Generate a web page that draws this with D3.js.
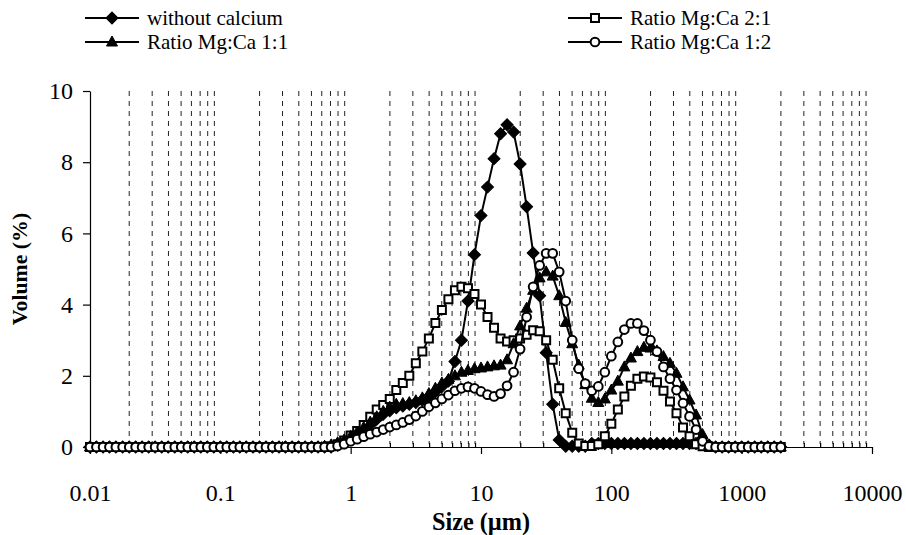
<!DOCTYPE html>
<html>
<head>
<meta charset="utf-8">
<script src="https://cdn.jsdelivr.net/npm/d3@7"></script>
<style>
  body { margin: 0; background: #fff; }
  svg { display: block; }
</style>
</head>
<body>
<svg id="chart"></svg>
<script>
// Size classes (µm), log spaced
const sizes = [
  0.0100, 0.0112, 0.0126, 0.0141, 0.0158, 0.0178, 0.0200, 0.0224, 0.0251, 0.0282,
  0.0316, 0.0355, 0.0398, 0.0447, 0.0501, 0.0562, 0.0631, 0.0708, 0.0794, 0.0891,
  0.100, 0.112, 0.126, 0.141, 0.158, 0.178, 0.200, 0.224, 0.251, 0.282,
  0.316, 0.355, 0.398, 0.447, 0.501, 0.562, 0.631, 0.708, 0.794, 0.891,
  1.000, 1.122, 1.259, 1.413, 1.585, 1.778, 1.995, 2.239, 2.512, 2.818,
  3.162, 3.548, 3.981, 4.467, 5.012, 5.623, 6.310, 7.079, 7.943, 8.913,
  10.00, 11.22, 12.59, 14.13, 15.85, 17.78, 19.95, 22.39, 25.12, 28.18,
  31.62, 35.48, 39.81, 44.67, 50.12, 56.23, 63.10, 70.79, 79.43, 89.13,
  100.0, 112.2, 125.9, 141.3, 158.5, 177.8, 199.5, 223.9, 251.2, 281.8,
  316.2, 354.8, 398.1, 446.7, 501.2, 562.3, 631.0, 707.9, 794.3, 891.3,
  1000, 1122, 1259, 1413, 1585, 1778, 1995
];

// Volume (%) for each series, one value per size class
const withoutCalcium = [
  0, 0, 0, 0, 0, 0, 0, 0, 0, 0,
  0, 0, 0, 0, 0, 0, 0, 0, 0, 0,
  0, 0, 0, 0, 0, 0, 0, 0, 0, 0,
  0, 0, 0, 0, 0, 0, 0, 0, 0.05, 0.12,
  0.22, 0.35, 0.48, 0.62, 0.78, 0.92, 1.02, 1.1, 1.15, 1.2,
  1.25, 1.32, 1.42, 1.55, 1.7, 1.85, 2.4, 3.0, 4.1, 5.4,
  6.5, 7.3, 8.1, 8.8, 9.05, 8.85, 7.95, 6.75, 5.45, 4.25,
  2.65, 1.2, 0.2, 0.02, 0.02, 0.02, 0.02, 0.1, 0.1, 0.1,
  0.1, 0.1, 0.1, 0.1, 0.1, 0.1, 0.1, 0.1, 0.1, 0.1,
  0.1, 0.1, 0.1, 0.1, 0.1, 0.05, 0, 0, 0, 0,
  0, 0, 0, 0, 0, 0, 0
];

const ratio21 = [
  0, 0, 0, 0, 0, 0, 0, 0, 0, 0,
  0, 0, 0, 0, 0, 0, 0, 0, 0, 0,
  0, 0, 0, 0, 0, 0, 0, 0, 0, 0,
  0, 0, 0, 0, 0, 0, 0, 0.02, 0.08, 0.18,
  0.32, 0.45, 0.62, 0.85, 1.05, 1.18, 1.35, 1.6, 1.8, 2.0,
  2.35, 2.68, 3.05, 3.48, 3.85, 4.15, 4.4, 4.5, 4.46, 4.3,
  4.0, 3.65, 3.35, 3.05, 2.96, 3.0, 3.05, 3.15, 3.28, 3.25,
  3.0, 2.45, 1.65, 0.95, 0.4, 0.1, 0.03, 0.03, 0.08, 0.3,
  0.65, 1.05, 1.42, 1.72, 1.92, 1.98, 1.95, 1.82, 1.58, 1.28,
  0.95, 0.55, 0.3, 0.08, 0.02, 0, 0, 0, 0, 0,
  0, 0, 0, 0, 0, 0, 0
];

const ratio11 = [
  0, 0, 0, 0, 0, 0, 0, 0, 0, 0,
  0, 0, 0, 0, 0, 0, 0, 0, 0, 0,
  0, 0, 0, 0, 0, 0, 0, 0, 0, 0,
  0, 0, 0, 0, 0, 0, 0.02, 0.06, 0.12, 0.2,
  0.3, 0.42, 0.55, 0.7, 0.85, 1.0, 1.12, 1.2, 1.22, 1.25,
  1.3, 1.38, 1.5, 1.65, 1.8, 1.9, 2.0, 2.1, 2.15, 2.2,
  2.22, 2.25, 2.28, 2.3, 2.45, 2.9, 3.4, 3.9, 4.4, 4.75,
  4.92, 4.8, 4.25, 3.5, 2.9, 2.3, 1.75, 1.37, 1.25, 1.35,
  1.6, 1.85, 2.25, 2.5, 2.68, 2.8, 2.78, 2.7, 2.54, 2.35,
  2.07, 1.69, 1.32, 0.9, 0.35, 0.05, 0, 0, 0, 0,
  0, 0, 0, 0, 0, 0, 0
];

const ratio12 = [
  0, 0, 0, 0, 0, 0, 0, 0, 0, 0,
  0, 0, 0, 0, 0, 0, 0, 0, 0, 0,
  0, 0, 0, 0, 0, 0, 0, 0, 0, 0,
  0, 0, 0, 0, 0, 0, 0, 0, 0.03, 0.08,
  0.16, 0.22, 0.29, 0.36, 0.42, 0.49, 0.56, 0.62, 0.69, 0.77,
  0.87, 1.0, 1.13, 1.24, 1.35, 1.46, 1.58, 1.65, 1.69, 1.65,
  1.56, 1.47, 1.42, 1.5, 1.72, 2.1, 2.75, 3.65, 4.5, 5.1,
  5.44, 5.44, 4.92, 4.1, 3.0, 2.2, 1.78, 1.58, 1.7, 2.1,
  2.55, 2.95, 3.3, 3.47, 3.47, 3.27, 3.0, 2.68, 2.25, 1.92,
  1.6, 1.23, 0.86, 0.49, 0.16, 0.02, 0, 0, 0, 0,
  0, 0, 0, 0, 0, 0, 0
];

const seriesNames = ['without calcium', 'Ratio Mg:Ca 2:1', 'Ratio Mg:Ca 1:1', 'Ratio Mg:Ca 1:2'];
const seriesValues = [withoutCalcium, ratio21, ratio11, ratio12];
const seriesMarkers = ['diamond', 'square', 'triangle', 'circle'];

const xTicks = [0.01, 0.1, 1, 10, 100, 1000, 10000];
const yTicks = [0, 2, 4, 6, 8, 10];

const FONT = "'Liberation Serif', 'Times New Roman', 'DejaVu Serif', serif";

// scale a group of texts so that a sample text reaches the width seen in the picture
function fitFont(selection, sample, targetWidth, baseSize) {
  const probe = d3.select('#chart').append('text')
      .attr('font-family', FONT)
      .style('font-family', FONT)
      .style('font-size', baseSize + 'px')
      .style('font-weight', selection.style('font-weight'))
      .text(sample);
  const w = probe.node().getComputedTextLength();
  probe.remove();
  const size = w > 0 ? baseSize * targetWidth / w : baseSize;
  selection.style('font-size', size.toFixed(2) + 'px');
  return size;
}

class SizeChart {

  constructor(_config) {
    this.config = {
      parentElement: _config.parentElement,
      containerWidth: _config.containerWidth || 906,
      containerHeight: _config.containerHeight || 535,
      margin: _config.margin || {top: 91, right: 34, bottom: 88, left: 90}
    }
    this.initVis();
  }

  initVis() {
    let vis = this;

    vis.width = vis.config.containerWidth - vis.config.margin.left - vis.config.margin.right;
    vis.height = vis.config.containerHeight - vis.config.margin.top - vis.config.margin.bottom;

    vis.xScale = d3.scaleLog()
        .domain([0.01, 10000])
        .range([0, vis.width]);

    vis.yScale = d3.scaleLinear()
        .domain([0, 10])
        .range([vis.height, 0]);

    vis.svg = d3.select(vis.config.parentElement)
        .attr('width', vis.config.containerWidth)
        .attr('height', vis.config.containerHeight);

    vis.chart = vis.svg.append('g')
        .attr('transform', `translate(${vis.config.margin.left},${vis.config.margin.top})`);

    // minor positions 2..9 in every decade, used for dashed grid and small ticks
    vis.minor = [];
    xTicks.slice(0, -1).forEach(d => {
      d3.range(2, 10).forEach(k => vis.minor.push(+(d * k).toPrecision(3)));
    });
  }

  renderVis() {
    let vis = this;

    // dashed vertical grid
    vis.chart.append('g')
        .selectAll('line')
        .data(vis.minor)
      .join('line')
        .attr('x1', d => vis.xScale(d))
        .attr('x2', d => vis.xScale(d))
        .attr('y1', 0)
        .attr('y2', vis.height - 3)
        .attr('stroke', '#222')
        .attr('stroke-width', 1)
        .attr('stroke-dasharray', '5,5');

    // axes
    const xAxis = d3.axisBottom(vis.xScale)
        .tickValues(xTicks)
        .tickSizeInner(7)
        .tickSizeOuter(0)
        .tickPadding(30)
        .tickFormat(d => d.toString());

    const xMinor = d3.axisBottom(vis.xScale)
        .tickValues(vis.minor)
        .tickSizeInner(-4)
        .tickSizeOuter(0)
        .tickFormat('');

    const yAxis = d3.axisLeft(vis.yScale)
        .tickValues(yTicks)
        .tickSizeInner(7)
        .tickSizeOuter(0)
        .tickPadding(10);

    vis.chart.append('g')
        .attr('transform', `translate(0,${vis.height})`)
        .call(xMinor);

    vis.chart.append('g')
        .attr('transform', `translate(0,${vis.height})`)
        .call(xAxis);

    vis.chart.append('g')
        .call(yAxis);

    vis.chart.selectAll('.domain, .tick line')
        .attr('stroke', '#000')
        .attr('stroke-width', 1.2);

    vis.chart.selectAll('g').attr('font-family', FONT);

    const tickText = vis.chart.selectAll('.tick text')
        .attr('fill', '#000');
    fitFont(tickText, '10000', 60, 24);

    // series
    const line = d3.line()
        .x(d => vis.xScale(d.size))
        .y(d => vis.yScale(d.value));

    seriesValues.forEach((values, s) => {
      const data = sizes.map((size, i) => ({size: size, value: values[i]}));
      const g = vis.chart.append('g').attr('class', 'series');

      g.append('path')
          .datum(data)
          .attr('fill', 'none')
          .attr('stroke', '#000')
          .attr('stroke-width', 2)
          .attr('stroke-linejoin', 'round')
          .attr('d', line);

      g.selectAll('.marker')
          .data(data)
        .join('path')
          .attr('class', 'marker')
          .attr('transform', d => `translate(${vis.xScale(d.size)},${vis.yScale(d.value)})`)
          .call(sel => vis.styleMarker(sel, seriesMarkers[s]));
    });

    // axis titles
    const xTitle = vis.svg.append('text')
        .attr('x', vis.config.margin.left + vis.width / 2)
        .attr('y', 530)
        .attr('text-anchor', 'middle')
        .style('font-weight', 'bold')
        .text('Size (µm)');

    const yTitle = vis.svg.append('text')
        .attr('transform', `translate(27,${vis.config.margin.top + vis.height / 2}) rotate(-90)`)
        .attr('text-anchor', 'middle')
        .style('font-weight', 'bold')
        .text('Volume (%)');
    const titleSize = fitFont(xTitle, 'Size (µm)', 98, 24);
    yTitle.style('font-size', (titleSize * 0.9).toFixed(2) + 'px');

    // legend, two columns
    const legendPos = [
      {x: 85, y: 18}, {x: 568, y: 18},
      {x: 85, y: 42}, {x: 568, y: 42}
    ];
    seriesNames.forEach((name, s) => {
      const p = legendPos[s];
      const lg = vis.svg.append('g')
          .attr('class', 'legend-item')
          .attr('transform', `translate(${p.x},${p.y})`);
      lg.append('line')
          .attr('x1', 0).attr('x2', 54)
          .attr('stroke', '#000')
          .attr('stroke-width', 2);
      lg.append('path')
          .attr('transform', 'translate(27,0)')
          .call(sel => vis.styleMarker(sel, seriesMarkers[s]));
      lg.append('text')
          .attr('x', 62)
          .attr('y', 7)
          .style('font-size', '21px')
          .text(name);
    });

    vis.svg.selectAll('text')
        .attr('font-family', FONT)
        .style('font-family', FONT);
  }

  styleMarker(sel, type) {
    if (type === 'diamond') {
      sel.attr('d', d3.symbol(d3.symbolSquare, 72)())
          .attr('transform', function() { return d3.select(this).attr('transform') + ' rotate(45)'; })
          .attr('fill', '#000')
          .attr('stroke', '#000')
          .attr('stroke-width', 1);
    } else if (type === 'square') {
      sel.attr('d', d3.symbol(d3.symbolSquare, 64)())
          .attr('fill', '#fff')
          .attr('stroke', '#000')
          .attr('stroke-width', 2);
    } else if (type === 'triangle') {
      sel.attr('d', 'M0,-6L5.5,4L-5.5,4Z')
          .attr('fill', '#000')
          .attr('stroke', '#000')
          .attr('stroke-width', 1);
    } else {
      sel.attr('d', d3.symbol(d3.symbolCircle, 60)())
          .attr('fill', '#fff')
          .attr('stroke', '#000')
          .attr('stroke-width', 2);
    }
  }
}

const chart = new SizeChart({parentElement: '#chart'});
chart.renderVis();
</script>
</body>
</html>
